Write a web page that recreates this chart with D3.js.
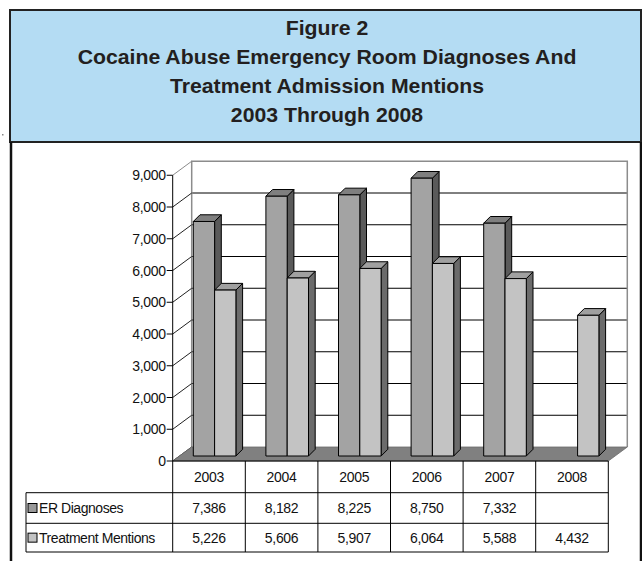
<!DOCTYPE html>
<html><head><meta charset="utf-8">
<script src="https://cdn.jsdelivr.net/npm/d3@7"></script>
<style>html,body{margin:0;padding:0;background:#fff}svg{display:block}</style>
</head><body>
<script>
const categories = ["2003","2004","2005","2006","2007","2008"];
const erDiagnoses = [7386, 8182, 8225, 8750, 7332, null];
const treatmentMentions = [5226, 5606, 5907, 6064, 5588, 4432];
const seriesNames = ["ER Diagnoses", "Treatment Mentions"];
const yTicks = [0,1000,2000,3000,4000,5000,6000,7000,8000,9000];
const titleLines = ["Figure 2","Cocaine Abuse Emergency Room Diagnoses And","Treatment Admission Mentions","2003 Through 2008"];

const W = 642, H = 561;
const svg = d3.select("body").append("svg").attr("width", W).attr("height", H);
const FONT = "'Liberation Sans', Arial, sans-serif";

// Title box
svg.append("rect").attr("x",10).attr("y",10).attr("width",631).attr("height",132)
  .attr("fill","#b4dcf3").attr("stroke","#222").attr("stroke-width",2);
// chart box
svg.append("path").attr("d","M11,142 V570 M641,142 V570").attr("stroke","#111").attr("stroke-width",2.5).attr("fill","none");
svg.append("rect").attr("x",2).attr("y",134).attr("width",1.5).attr("height",1.5).attr("fill","#888");

const tY = [35, 64, 93, 122];
titleLines.forEach((t,i)=>{
  svg.append("text").attr("transform",`translate(327,${tY[i]}) scale(1.09,1)`)
    .attr("text-anchor","middle").attr("font-family",FONT).attr("font-weight","bold")
    .attr("font-size",19.5).attr("fill","#231f20").text(t);
});

// Geometry
const x0 = 172.7, x1 = 608.3;
const y0 = 461, yTop = 461 - 285.75;
const DX = 19, DY = -14;          // wall depth
const ox = 5.6, oy = -5;          // bar placement depth
const bdx = 6.7, bdy = -6.7;      // bar depth
const y = d3.scaleLinear().domain([0,9000]).range([y0, yTop]);
const xb = d3.scaleBand().domain(categories).range([x0, x1]);
const bw = 21.3;

// Back wall
const g = svg.append("g");
g.append("rect").attr("x",x0+DX).attr("y",yTop+DY).attr("width",x1-x0).attr("height",y0-yTop)
  .attr("fill","#fff");
yTicks.filter(v=>v>0 && v<9000).forEach(v=>{
  g.append("line").attr("x1",x0+DX).attr("x2",x1+DX).attr("y1",y(v)+DY).attr("y2",y(v)+DY)
    .attr("stroke","#000").attr("stroke-width",1);
});
g.append("path").attr("d",`M${x0+DX},${y0+DY} V${yTop+DY} H${x1+DX} V${y0+DY}`)
  .attr("fill","none").attr("stroke","#8c8c8c").attr("stroke-width",1.5);
yTicks.forEach(v=>{
  g.append("line").attr("x1",x0).attr("y1",y(v)).attr("x2",x0+DX).attr("y2",y(v)+DY)
    .attr("stroke", v===9000 ? "#8c8c8c" : "#222").attr("stroke-width",1);
});
// floor
g.append("path").attr("d",`M${x0},${y0} L${x1},${y0} L${x1+DX},${y0+DY} L${x0+DX},${y0+DY} Z`)
  .attr("fill","#808080").attr("stroke","#6a6a6a").attr("stroke-width",0.8);

// Y axis
g.append("line").attr("x1",x0).attr("x2",x0).attr("y1",yTop).attr("y2",y0).attr("stroke","#000");
yTicks.forEach(v=>{
  g.append("line").attr("x1",x0-6).attr("x2",x0).attr("y1",y(v)).attr("y2",y(v)).attr("stroke","#000");
  g.append("text").attr("x",x0-7).attr("y",y(v)+5).attr("text-anchor","end")
    .attr("font-family",FONT).attr("font-size",14).attr("letter-spacing",-0.3).attr("fill","#111")
    .text(d3.format(",")(v));
});

// Bars
const styles = [
  {front:"#a3a3a3", side:"#5a5a5a", top:"#7f7f7f"},
  {front:"#c3c3c3", side:"#6b6b6b", top:"#a0a0a0"}
];
const series = [erDiagnoses, treatmentMentions];
categories.forEach((c,i)=>{
  const cx = xb(c) + xb.bandwidth()/2;
  series.forEach((vals,s)=>{
    const v = vals[i];
    if (v == null) return;
    const st = styles[s];
    const bx = cx - bw + s*bw + ox;
    const by = y0 + oy;
    const ty = by - (y0 - y(v));
    const bar = g.append("g").attr("stroke","#000").attr("stroke-width",1).attr("stroke-linejoin","round");
    bar.append("path").attr("fill",st.side)
      .attr("d",`M${bx+bw},${by} L${bx+bw},${ty} L${bx+bw+bdx},${ty+bdy} L${bx+bw+bdx},${by+bdy} Z`);
    bar.append("path").attr("fill",st.top)
      .attr("d",`M${bx},${ty} L${bx+bw},${ty} L${bx+bw+bdx},${ty+bdy} L${bx+bdx},${ty+bdy} Z`);
    bar.append("rect").attr("fill",st.front).attr("x",bx).attr("y",ty).attr("width",bw).attr("height",by-ty);
  });
});

// Data table
const tl = 26, rowH = [461, 492.7, 523.3, 552];
const tab = svg.append("g").attr("stroke","#000").attr("stroke-width",1).attr("fill","none");
tab.append("line").attr("x1",x0).attr("x2",x1).attr("y1",rowH[0]).attr("y2",rowH[0]);
[1,2,3].forEach(r=>tab.append("line").attr("x1",tl).attr("x2",x1).attr("y1",rowH[r]).attr("y2",rowH[r]));
tab.append("line").attr("x1",tl).attr("x2",tl).attr("y1",rowH[1]).attr("y2",rowH[3]);
categories.forEach(c=>{
  tab.append("line").attr("x1",xb(c)).attr("x2",xb(c)).attr("y1",rowH[0]).attr("y2",rowH[3]);
});
tab.append("line").attr("x1",x1).attr("x2",x1).attr("y1",rowH[0]).attr("y2",rowH[3]);

const txt = (x,yy,t,anchor)=>svg.append("text").attr("x",x).attr("y",yy).attr("text-anchor",anchor||"middle")
  .attr("font-family",FONT).attr("font-size",14).attr("letter-spacing",-0.3).attr("fill","#111").text(t);
categories.forEach((c,i)=>{
  const cx = xb(c) + xb.bandwidth()/2;
  txt(cx, (rowH[0]+rowH[1])/2+5, c);
  series.forEach((vals,s)=>{
    if (vals[i]!=null) txt(cx, (rowH[s+1]+rowH[s+2])/2+5, d3.format(",")(vals[i]));
  });
});
seriesNames.forEach((n,s)=>{
  const cy = (rowH[s+1]+rowH[s+2])/2;
  svg.append("rect").attr("x",28).attr("y",cy-4.5).attr("width",9).attr("height",9)
    .attr("fill", s===0 ? "#999" : "#c3c3c3").attr("stroke","#000").attr("stroke-width",1);
  txt(39, cy+5, n, "start").attr("letter-spacing",-0.45);
});
</script>
</body></html>
